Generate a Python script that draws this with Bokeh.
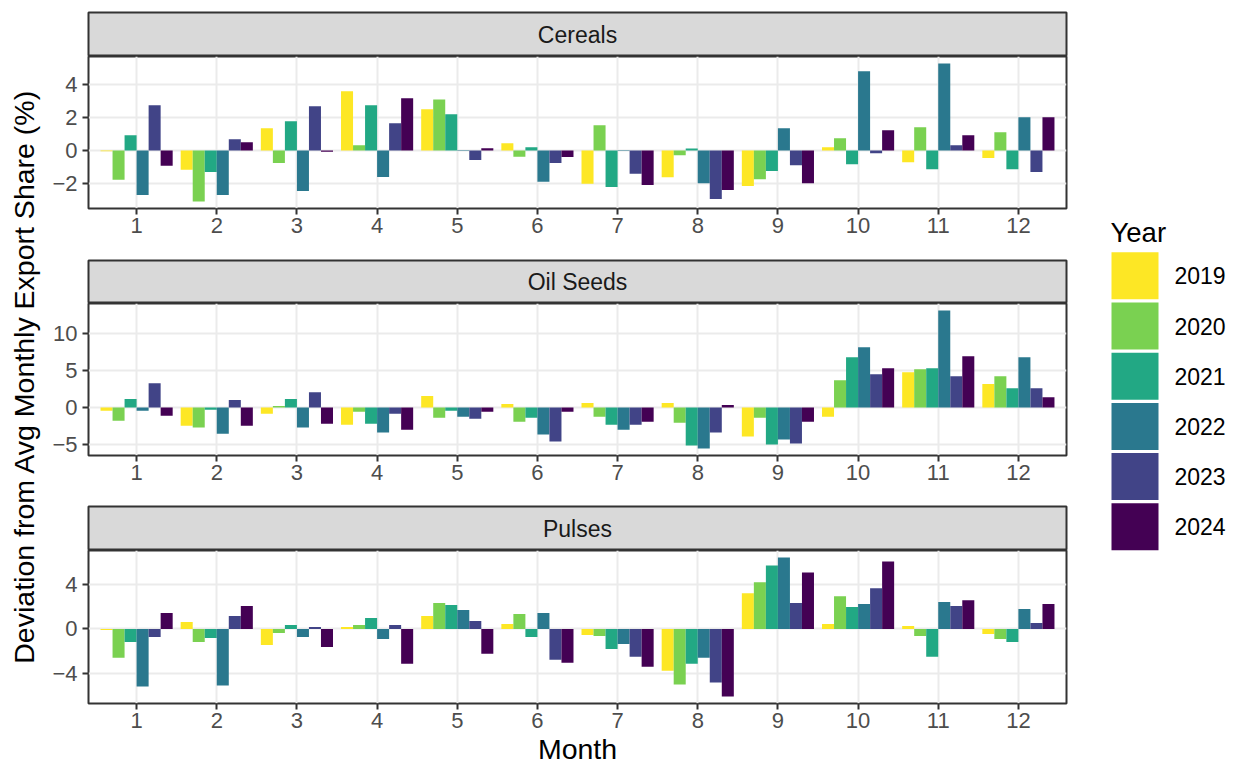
from bokeh.plotting import figure
from bokeh.models import (ColumnDataSource, FactorRange, Range1d, FixedTicker,
                          CustomJSTickFormatter, Label, LinearAxis)
from bokeh.layouts import row, column
from bokeh.transform import dodge
from bokeh.core.properties import value
from bokeh.embed import file_html
from bokeh.resources import INLINE

FONT = "Liberation Sans"

months = [str(m) for m in range(1, 13)]
years = ["2019", "2020", "2021", "2022", "2023", "2024"]
year_colors = ["#FDE725", "#7AD151", "#22A884", "#2A788E", "#414487", "#440154"]

# Cereals: deviation from avg monthly export share (%), months 1..12
cereals_2019 = [-0.05, -1.17, 1.35, 3.60, 2.50, 0.44, -2.02, -1.62, -2.16, 0.20, -0.71, -0.46]
cereals_2020 = [-1.78, -3.10, -0.75, 0.32, 3.10, -0.38, 1.54, -0.28, -1.74, 0.75, 1.41, 1.11]
cereals_2021 = [0.93, -1.30, 1.78, 2.75, 2.20, 0.20, -2.22, 0.12, -1.25, -0.83, -1.13, -1.13]
cereals_2022 = [-2.70, -2.70, -2.46, -1.60, -0.03, -1.90, -0.03, -1.98, 1.35, 4.81, 5.29, 2.02]
cereals_2023 = [2.75, 0.69, 2.69, 1.66, -0.57, -0.75, -1.41, -2.95, -0.89, -0.16, 0.32, -1.31]
cereals_2024 = [-0.93, 0.50, -0.08, 3.17, 0.14, -0.40, -2.10, -2.40, -1.98, 1.23, 0.93, 2.02]

# Oil Seeds
oilseeds_2019 = [-0.45, -2.46, -0.85, -2.32, 1.52, 0.45, 0.58, 0.58, -3.93, -1.25, 4.73, 3.13]
oilseeds_2020 = [-1.79, -2.72, 0.18, -0.58, -1.38, -1.92, -1.25, -2.05, -1.38, 3.66, 5.13, 4.20]
oilseeds_2021 = [1.12, -0.31, 1.12, -2.19, -0.45, -1.38, -2.32, -5.13, -5.00, 6.74, 5.27, 2.59]
oilseeds_2022 = [-0.45, -3.53, -2.72, -3.39, -1.25, -3.66, -2.99, -5.54, -4.33, 8.08, 13.04, 6.74]
oilseeds_2023 = [3.26, 0.98, 2.05, -0.85, -1.52, -4.60, -2.32, -3.39, -4.87, 4.46, 4.20, 2.59]
oilseeds_2024 = [-1.12, -2.46, -2.19, -2.99, -0.58, -0.58, -1.92, 0.31, -1.92, 5.27, 6.88, 1.38]

# Pulses
pulses_2019 = [-0.09, 0.63, -1.44, 0.18, 1.17, 0.45, -0.54, -3.77, 3.23, 0.45, 0.27, -0.45]
pulses_2020 = [-2.60, -1.17, -0.36, 0.36, 2.34, 1.35, -0.63, -5.03, 4.22, 2.96, -0.63, -0.90]
pulses_2021 = [-1.17, -0.81, 0.36, 0.99, 2.16, -0.72, -1.80, -3.14, 5.75, 1.98, -2.51, -1.17]
pulses_2022 = [-5.21, -5.12, -0.72, -0.90, 1.71, 1.44, -1.35, -2.60, 6.47, 2.25, 2.43, 1.80]
pulses_2023 = [-0.72, 1.17, 0.18, 0.36, 0.72, -2.78, -2.51, -4.85, 2.34, 3.68, 2.07, 0.54]
pulses_2024 = [1.44, 2.07, -1.62, -3.14, -2.25, -3.05, -3.41, -6.11, 5.12, 6.11, 2.60, 2.25]

cereals_ticks = [-2, 0, 2, 4]
oilseeds_ticks = [-5, 0, 5, 10]
pulses_ticks = [-4, 0, 4]

facets = [
    ("Cereals", [cereals_2019, cereals_2020, cereals_2021, cereals_2022, cereals_2023, cereals_2024], cereals_ticks),
    ("Oil Seeds", [oilseeds_2019, oilseeds_2020, oilseeds_2021, oilseeds_2022, oilseeds_2023, oilseeds_2024], oilseeds_ticks),
    ("Pulses", [pulses_2019, pulses_2020, pulses_2021, pulses_2022, pulses_2023, pulses_2024], pulses_ticks),
]

TOTAL_H = 771
LEFT_W = 48
PANEL_W = 1020
LEG_W = 167
BORDER_L = 40
BORDER_R = 2
GRID = "#ebebeb"
DARK = "#333333"
TITLE_SIZE = "28.5px"

strip_specs = [(56, 12), (44, 1), (45, 1)]         # (height, top border)
panel_specs = [(203, 51), (202, 50), (221, 68)]    # (height, bottom border)


def make_strip(text, height, top):
    s = figure(width=PANEL_W, height=height, x_range=Range1d(0, 1), y_range=Range1d(0, 1),
               x_axis_location=None, y_axis_location=None,
               min_border_left=BORDER_L, min_border_right=BORDER_R,
               min_border_top=top, min_border_bottom=0,
               output_backend="svg", toolbar_location=None)
    s.grid.visible = False
    s.background_fill_color = "#d9d9d9"
    s.border_fill_color = "white"
    s.outline_line_color = DARK
    s.outline_line_width = 2
    s.add_layout(Label(x=0.5, y=0.5, text=text, text_align="center", text_baseline="middle",
                       text_font=FONT, text_font_size="23px", text_color="#1a1a1a"))
    return s


def make_panel(series, ticks, height, bottom, xlabel=None):
    vals = [v for s in series for v in s] + [0]
    lo, hi = min(vals), max(vals)
    span = hi - lo
    p = figure(width=PANEL_W, height=height,
               x_range=FactorRange(*months, range_padding=0.1, range_padding_units="absolute"),
               y_range=Range1d(lo - 0.05 * span, hi + 0.05 * span),
               min_border_left=BORDER_L, min_border_right=BORDER_R,
               min_border_top=0, min_border_bottom=bottom,
               output_backend="svg", toolbar_location=None)
    data = {"month": months}
    for y, s in zip(years, series):
        data["y" + y] = s
    src = ColumnDataSource(data)
    bw = 0.9 / len(years)
    for i, (y, c) in enumerate(zip(years, year_colors)):
        off = (i - (len(years) - 1) / 2) * bw
        p.vbar(x=dodge("month", off, range=p.x_range), top="y" + y, bottom=0, width=bw,
               source=src, fill_color=c, line_color=None)
    p.background_fill_color = "white"
    p.outline_line_color = DARK
    p.outline_line_width = 2
    p.yaxis.ticker = FixedTicker(ticks=ticks)
    p.yaxis.formatter = CustomJSTickFormatter(
        code="return tick < 0 ? '\u2212' + Math.abs(tick) : String(tick);")
    for ax in (p.xaxis[0], p.yaxis[0]):
        ax.axis_line_color = None
        ax.major_tick_line_color = DARK
        ax.major_tick_line_width = 2
        ax.major_tick_in = 0
        ax.major_tick_out = 6
        ax.minor_tick_line_color = None
        ax.major_label_text_font = FONT
        ax.major_label_text_font_size = "22px"
        ax.major_label_text_color = "#4d4d4d"
    p.xaxis.major_label_standoff = 3
    p.yaxis.major_label_standoff = 5
    p.xgrid.grid_line_color = GRID
    p.xgrid.grid_line_width = 2
    p.ygrid.grid_line_color = GRID
    p.ygrid.grid_line_width = 2
    if xlabel:
        p.xaxis.axis_label = xlabel
        p.xaxis.axis_label_text_font = FONT
        p.xaxis.axis_label_text_font_size = TITLE_SIZE
        p.xaxis.axis_label_text_font_style = "normal"
        p.xaxis.axis_label_text_color = "black"
        p.xaxis.axis_label_standoff = 2
    return p


children = []
for k, (name, series, ticks) in enumerate(facets):
    sh, st = strip_specs[k]
    ph, pb = panel_specs[k]
    children.append(make_strip(name, sh, st))
    children.append(make_panel(series, ticks, ph, pb, "Month" if k == 2 else None))

middle = column(*children, spacing=0)

# left: shared y-axis title, drawn as the label of an empty axis
left = figure(width=LEFT_W, height=TOTAL_H, x_range=Range1d(0, 1), y_range=Range1d(0, 1),
              x_axis_location=None, y_axis_location=None,
              min_border_left=44, min_border_right=0, min_border_top=0, min_border_bottom=21,
              output_backend="svg", toolbar_location=None)
left.grid.visible = False
left.outline_line_color = None
yt = LinearAxis(ticker=FixedTicker(ticks=[]), axis_label="Deviation from Avg Monthly Export Share (%)",
                axis_line_color=None, major_tick_line_color=None, minor_tick_line_color=None,
                major_tick_out=0, minor_tick_out=0, major_label_standoff=0,
                axis_label_standoff=5, axis_label_text_font=FONT,
                axis_label_text_font_size=TITLE_SIZE, axis_label_text_font_style="normal",
                axis_label_text_color="black")
left.add_layout(yt, "left")

# right: legend; frame spans the legend block, one y unit per legend row
KEY_PITCH = 50.2
FIRST_KEY_CENTER = 275.3
LEG_TOP = 200
LEG_BOTTOM = 552
leg = figure(width=LEG_W, height=TOTAL_H, x_range=Range1d(0, LEG_W),
             y_range=Range1d(-(LEG_BOTTOM - FIRST_KEY_CENTER) / KEY_PITCH,
                             (FIRST_KEY_CENTER - LEG_TOP) / KEY_PITCH),
             x_axis_location=None, y_axis_location=None,
             min_border_left=0, min_border_right=0,
             min_border_top=LEG_TOP, min_border_bottom=TOTAL_H - LEG_BOTTOM,
             output_backend="svg", toolbar_location=None)
leg.grid.visible = False
leg.outline_line_color = None
lsrc = ColumnDataSource(dict(year=years, color=year_colors, pos=[-i for i in range(len(years))]))
leg.rect(x=66.5, y="pos", width=47, height=47, width_units="screen", height_units="screen",
         fill_color="color", line_color=None, source=lsrc)
leg.text(x=106, y="pos", text="year", source=lsrc, text_align="left", text_baseline="middle",
         text_font=value(FONT), text_font_size=value("23px"), text_color="black")
leg.add_layout(Label(x=42, y=(FIRST_KEY_CENTER - 231.7) / KEY_PITCH, text="Year",
                     text_align="left", text_baseline="alphabetic",
                     text_font=FONT, text_font_size="27.5px", text_color="black"))

layout = row(left, middle, leg, spacing=0)

open("out.html", "w").write(file_html(layout, INLINE))
